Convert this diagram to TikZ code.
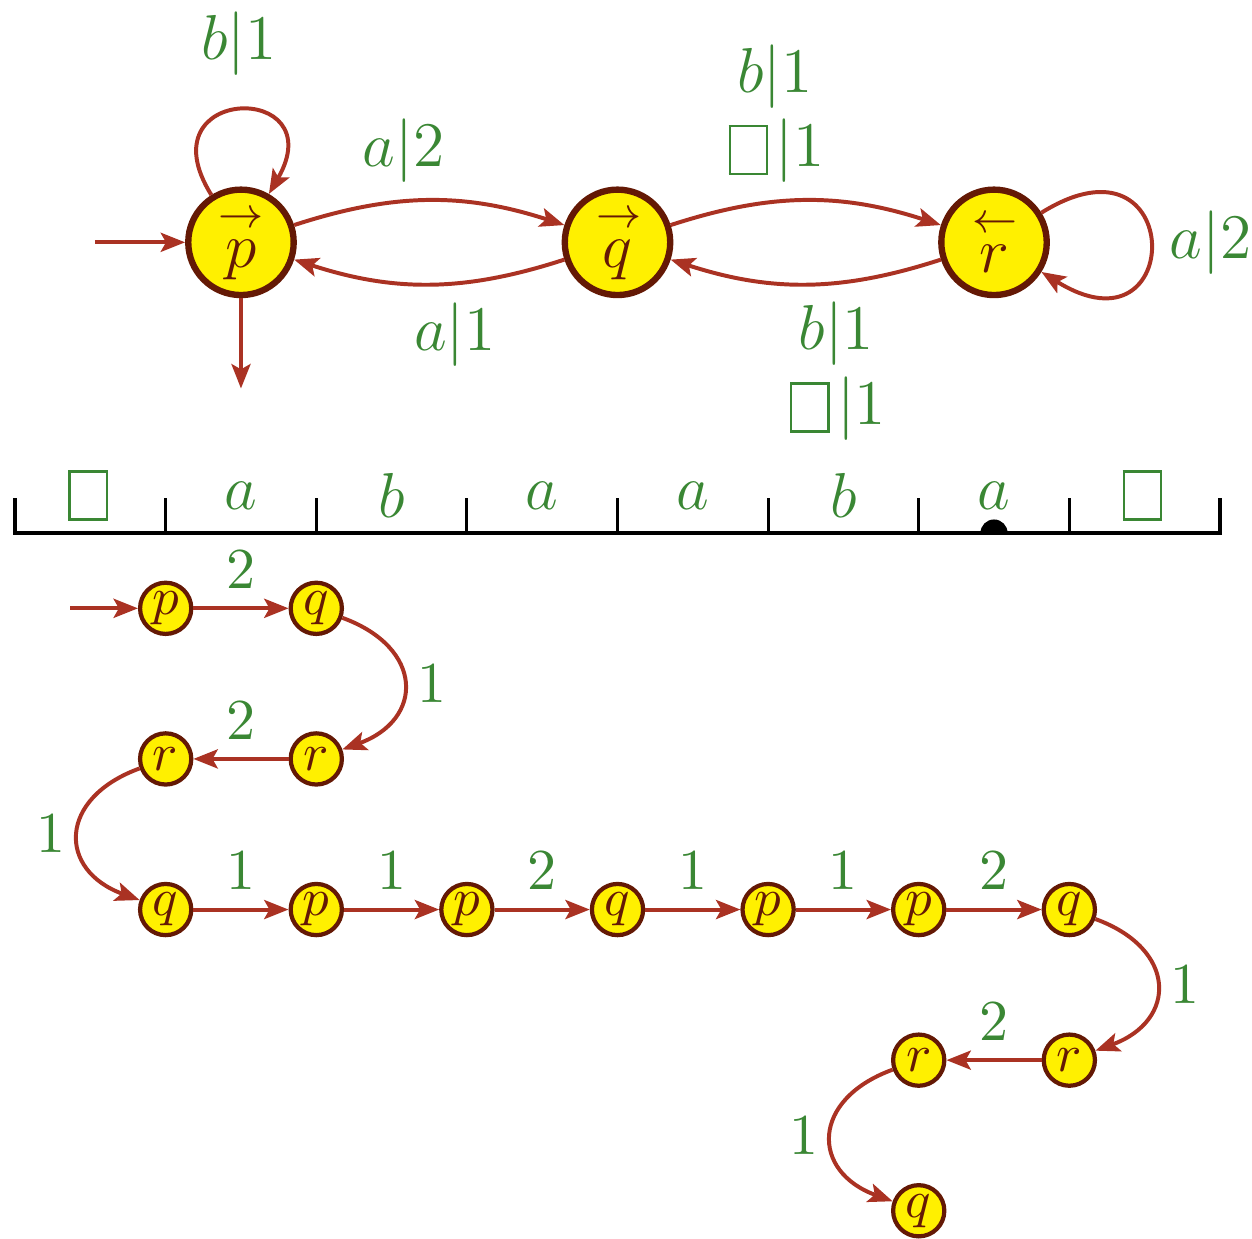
\documentclass[tikz,border=0pt]{standalone}
\usepackage{amsmath}
\usetikzlibrary{arrows.meta}
\definecolor{edgered}{RGB}{170,50,35}
\definecolor{statebrown}{RGB}{100,25,5}
\definecolor{stateyellow}{RGB}{255,240,0}
\definecolor{labelgreen}{RGB}{58,135,52}
\newcommand{\blanksym}{\kern0.05em\raisebox{-0.1em}{\setlength{\fboxsep}{0pt}\setlength{\fboxrule}{0.45pt}\fbox{\rule{0pt}{0.72em}\hspace{0.55em}}}\kern0.12em}
\tikzset{
  state/.style={circle,draw=statebrown,fill=stateyellow,line width=1.2pt,minimum size=0.7cm,inner sep=0pt,text=statebrown,font=\large},
  conf/.style={circle,draw=statebrown,fill=stateyellow,line width=0.8pt,minimum size=0.34cm,inner sep=0pt,text=statebrown},
  trans/.style={draw=edgered,line width=0.75pt,-{Stealth[length=4.6pt,width=3.6pt,inset=1pt]}},
  lab/.style={text=labelgreen,font=\large},
  steplab/.style={text=labelgreen,font=\fontsize{10.95}{13}\selectfont},
}
\begin{document}
\begin{tikzpicture}[x=1cm,y=1cm]
		\useasboundingbox (-0.1,-4.681) rectangle (8.213,3.539);
		% automaton
		\node[state] (p) at (1.5,1.93) {$\stackrel{\rightarrow}{p}$};
		\node[state] (q) at (4.0,1.93) {$\stackrel{\rightarrow}{q}$};
		\node[state] (r) at (6.5,1.93) {$\stackrel{\leftarrow}{r}$};
		\coordinate (pin) at (0.53,1.93);
		\coordinate (pout) at (1.5,0.96);
		\path[trans] (pin) -- (p);
		\path[trans] (p) -- (pout);
		\path[trans] (p) to[out=122,in=60,looseness=5.8] node[lab,above=3pt] {$b|1$} (p);
		\path[trans] (p) to[bend left=18] node[lab,above,pos=0.4] {$a|2$} (q);
		\path[trans] (q) to[bend left=18] node[lab,below,pos=0.4] {$a|1$} (p);
		\path[trans] (q) to[bend left=18] node[lab,above,pos=0.38,align=center] {$b|1$\\$\blanksym|1$} (r);
		\path[trans] (r) to[bend left=18] node[lab,below,pos=0.38,align=center] {$b|1$\\$\blanksym|1$} (q);
		\path[trans] (r) to[out=32,in=-32,looseness=7.4] node[lab,right] {$a|2$} (r);
		% tape
		\draw[line width=0.6pt] (0,0.23) -- (0,0) -- (8,0) -- (8,0.23);
		\draw[line width=0.6pt] (1,0) -- (1,0.23);
		\draw[line width=0.6pt] (2,0) -- (2,0.23);
		\draw[line width=0.6pt] (3,0) -- (3,0.23);
		\draw[line width=0.6pt] (4,0) -- (4,0.23);
		\draw[line width=0.6pt] (5,0) -- (5,0.23);
		\draw[line width=0.6pt] (6,0) -- (6,0.23);
		\draw[line width=0.6pt] (7,0) -- (7,0.23);
		\node[lab] (t0) at (0.5,0.25) {$\blanksym$};
		\node[lab] (t1) at (1.5,0.25) {$a$};
		\node[lab] (t2) at (2.5,0.25) {$b$};
		\node[lab] (t3) at (3.5,0.25) {$a$};
		\node[lab] (t4) at (4.5,0.25) {$a$};
		\node[lab] (t5) at (5.5,0.25) {$b$};
		\node[lab] (t6) at (6.5,0.25) {$a$};
		\node[lab] (t7) at (7.5,0.25) {$\blanksym$};
		\fill (6.59,0) arc (0:180:0.09) -- cycle; % head
		% run
		\node[conf] (c1) at (1,-0.5) {$p$};
		\node[conf] (c2) at (2,-0.5) {$q$};
		\node[conf] (c3) at (2,-1.5) {$r$};
		\node[conf] (c4) at (1,-1.5) {$r$};
		\node[conf] (c5) at (1,-2.5) {$q$};
		\node[conf] (c6) at (2,-2.5) {$p$};
		\node[conf] (c7) at (3,-2.5) {$p$};
		\node[conf] (c8) at (4,-2.5) {$q$};
		\node[conf] (c9) at (5,-2.5) {$p$};
		\node[conf] (c10) at (6,-2.5) {$p$};
		\node[conf] (c11) at (7,-2.5) {$q$};
		\node[conf] (c12) at (7,-3.5) {$r$};
		\node[conf] (c13) at (6,-3.5) {$r$};
		\node[conf] (c14) at (6,-4.5) {$q$};
		\coordinate (cin) at (0.365,-0.5);
		\path[trans] (cin) -- (c1);
		\path[trans] (c1) -- node[steplab,above] {$2$} (c2);
		\path[trans] (c2) to[bend left=70,looseness=1.7] node[steplab,right=-1.2pt] {$1$} (c3);
		\path[trans] (c3) -- node[steplab,above] {$2$} (c4);
		\path[trans] (c4) to[bend right=70,looseness=1.7] node[steplab,left=-1.4pt] {$1$} (c5);
		\path[trans] (c5) -- node[steplab,above] {$1$} (c6);
		\path[trans] (c6) -- node[steplab,above] {$1$} (c7);
		\path[trans] (c7) -- node[steplab,above] {$2$} (c8);
		\path[trans] (c8) -- node[steplab,above] {$1$} (c9);
		\path[trans] (c9) -- node[steplab,above] {$1$} (c10);
		\path[trans] (c10) -- node[steplab,above] {$2$} (c11);
		\path[trans] (c11) to[bend left=70,looseness=1.7] node[steplab,right=-1.2pt] {$1$} (c12);
		\path[trans] (c12) -- node[steplab,above] {$2$} (c13);
		\path[trans] (c13) to[bend right=70,looseness=1.7] node[steplab,left=-1.4pt] {$1$} (c14);
\end{tikzpicture}
\end{document}
